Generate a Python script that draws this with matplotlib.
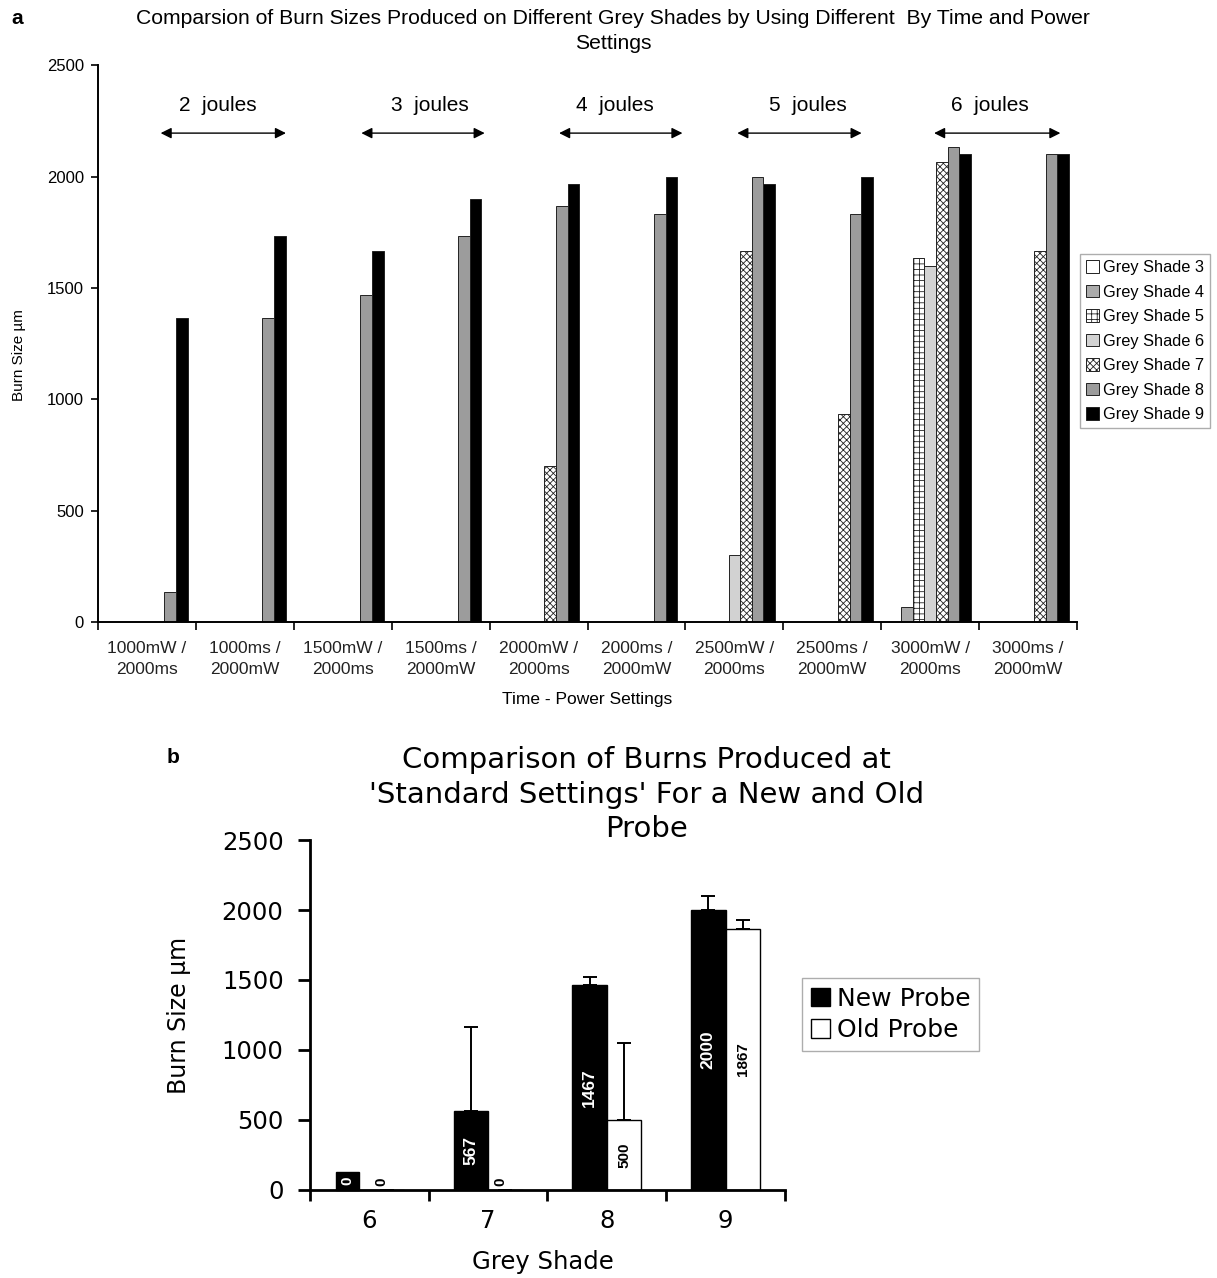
import matplotlib
matplotlib.use("Agg")
import matplotlib.pyplot as plt
from matplotlib.patches import Patch
import numpy as np

plt.rcParams['font.family'] = ['Liberation Sans', 'DejaVu Sans']
plt.rcParams['hatch.linewidth'] = 0.6

# ---------------- data (panel a) ----------------
categories = ["1000mW /\n2000ms", "1000ms /\n2000mW", "1500mW /\n2000ms", "1500ms /\n2000mW",
              "2000mW /\n2000ms", "2000ms /\n2000mW", "2500mW /\n2000ms", "2500ms /\n2000mW",
              "3000mW /\n2000ms", "3000ms /\n2000mW"]
shade3 = [0, 0, 0, 0, 0, 0, 0, 0, 0, 0]
shade4 = [0, 0, 0, 0, 0, 0, 0, 0, 67, 0]
shade5 = [0, 0, 0, 0, 0, 0, 0, 0, 1633, 0]
shade6 = [0, 0, 0, 0, 0, 0, 300, 0, 1600, 0]
shade7 = [0, 0, 0, 0, 700, 0, 1667, 933, 2067, 1667]
shade8 = [133, 1367, 1467, 1733, 1867, 1833, 2000, 1833, 2133, 2100]
shade9 = [1367, 1733, 1667, 1900, 1967, 2000, 1967, 2000, 2100, 2100]
series_names = ["Grey Shade 3", "Grey Shade 4", "Grey Shade 5", "Grey Shade 6",
                "Grey Shade 7", "Grey Shade 8", "Grey Shade 9"]
joule_labels = ["2  joules", "3  joules", "4  joules", "5  joules", "6  joules"]

# ---------------- data (panel b) ----------------
shades_b = ["6", "7", "8", "9"]
new_probe = [0, 567, 1467, 2000]
old_probe = [0, 0, 500, 1867]
new_err = [0, 600, 55, 100]
old_err = [0, 0, 550, 60]

fig = plt.figure(figsize=(12.17, 12.78), dpi=100)

# ================= panel a =================
ax = fig.add_axes([0.0805, 0.5133, 0.8045, 0.4357])
series = [shade3, shade4, shade5, shade6, shade7, shade8, shade9]
styles = [
    dict(color='white', hatch=None),
    dict(color='#ababab', hatch=None),
    dict(color='white', hatch='+++'),
    dict(color='#d2d2d2', hatch=None),
    dict(color='white', hatch='xxxxx'),
    dict(color='#9c9c9c', hatch=None),
    dict(color='black', hatch=None),
]
n = len(series)
bw = 0.119
x = np.arange(len(categories))
handles = []
for i, (vals, st) in enumerate(zip(series, styles)):
    offs = (i - (n - 1) / 2) * bw
    ax.bar(x + offs, vals, width=bw, color=st['color'], hatch=st['hatch'],
           edgecolor='#222222', linewidth=0.7)
    handles.append(Patch(facecolor=st['color'], hatch=st['hatch'], edgecolor='#222222',
                         linewidth=0.7, label=series_names[i]))

ax.set_xlim(-0.5, len(categories) - 0.5)
ax.set_ylim(0, 2500)
ax.set_yticks([0, 500, 1000, 1500, 2000, 2500])
ax.tick_params(axis='y', labelsize=12, length=5, width=1.2, pad=5)
ax.set_xticks(x)
ax.set_xticklabels(categories, fontsize=12.5, linespacing=1.5, color='#222222')
ax.tick_params(axis='x', length=0, pad=14)
ax.set_xticks(np.arange(-0.5, len(categories) + 0.5, 1), minor=True)
ax.tick_params(axis='x', which='minor', length=6, width=1.2)
for s in ['top', 'right']:
    ax.spines[s].set_visible(False)
ax.spines['left'].set_linewidth(1.4)
ax.spines['bottom'].set_linewidth(1.4)
ax.set_ylabel("Burn Size µm", fontsize=11)
ax.yaxis.set_label_coords(-0.074, 0.48)
ax.set_xlabel("Time - Power Settings", fontsize=12.5)
ax.xaxis.set_label_coords(0.5, -0.126)

arrow_start = [0.14, 2.19, 4.21, 6.03, 8.04]
arrow_end = [1.42, 3.45, 5.47, 7.30, 9.33]
text_x = [0.72, 2.89, 4.78, 6.75, 8.61]
for a0, a1, tx, lab in zip(arrow_start, arrow_end, text_x, joule_labels):
    ax.annotate("", xy=(a1, 2195), xytext=(a0, 2195),
                arrowprops=dict(arrowstyle='<|-|>', color='black', lw=1.0,
                                mutation_scale=16, shrinkA=0, shrinkB=0))
    ax.text(tx, 2318, lab, ha='center', va='center', fontsize=15)

leg = ax.legend(handles=handles, loc='upper left', bbox_to_anchor=(1.003, 0.66),
                fontsize=11.8, frameon=True, fancybox=False, handlelength=0.8,
                handleheight=0.8, handletextpad=0.25, labelspacing=0.58,
                borderpad=0.35, borderaxespad=0.0)
leg.get_frame().set_edgecolor('#999999')
leg.get_frame().set_linewidth(1.0)

fig.text(0.504, 0.993, "Comparsion of Burn Sizes Produced on Different Grey Shades by Using Different  By Time and Power\nSettings",
         ha='center', va='top', fontsize=15.2, linespacing=1.4)
fig.text(0.009, 0.993, "a", ha='left', va='top', fontsize=15, fontweight='bold')

# ================= panel b =================
dv = ['DejaVu Sans']
bx = fig.add_axes([0.2547, 0.0689, 0.3903, 0.2738])
xb = np.arange(len(shades_b))
w = 0.29
ekw = dict(ecolor='black', elinewidth=1.4, capsize=4.8, capthick=1.4)
bx.bar(xb - w / 2, new_probe, width=w, color='black', edgecolor='black', linewidth=1,
       yerr=[np.zeros(4), new_err], error_kw=ekw, label="New Probe")
bx.bar(xb + w / 2, old_probe, width=w, color='white', edgecolor='black', linewidth=1,
       yerr=[np.zeros(4), old_err], error_kw=ekw, label="Old Probe")

for i in range(len(xb)):
    v = new_probe[i]
    if v > 0:
        bx.text(xb[i] - w / 2, v / 2, str(v), rotation=90, ha='center', va='center',
                color='white', fontsize=12.5, fontweight='bold')
    else:
        bx.text(xb[i] - w / 2 - 0.04, 63, str(v), rotation=90, ha='center', va='center',
                color='white', fontsize=11, fontweight='bold',
                bbox=dict(facecolor='black', edgecolor='black', boxstyle='square,pad=0.3'))
    v = old_probe[i]
    if v > 0:
        bx.text(xb[i] + w / 2, v / 2, str(v), rotation=90, ha='center', va='center',
                color='black', fontsize=11, fontweight='bold')
    else:
        bx.text(xb[i] + w / 2 - 0.04, 60, str(v), rotation=90, ha='center', va='center',
                color='black', fontsize=11, fontweight='bold')

bx.set_xlim(-0.5, len(shades_b) - 0.5)
bx.set_ylim(0, 2500)
bx.set_yticks([0, 500, 1000, 1500, 2000, 2500])
bx.set_yticklabels([str(v) for v in [0, 500, 1000, 1500, 2000, 2500]], family=dv, fontsize=17.5)
bx.tick_params(axis='y', length=9, width=2, pad=10)
bx.set_xticks(xb)
bx.set_xticklabels(shades_b, fontsize=17.5, family=dv)
bx.tick_params(axis='x', length=0, pad=14)
bx.set_xticks(np.arange(-0.5, len(shades_b) + 0.5, 1), minor=True)
bx.tick_params(axis='x', which='minor', length=8, width=2)
for s in ['top', 'right']:
    bx.spines[s].set_visible(False)
bx.spines['left'].set_linewidth(2)
bx.spines['bottom'].set_linewidth(2)
bx.set_ylabel("Burn Size µm", fontsize=17, family=dv)
bx.yaxis.set_label_coords(-0.25, 0.5)
bx.set_xlabel("Grey Shade", fontsize=17.5, family=dv)
bx.xaxis.set_label_coords(0.49, -0.172)

leg2 = bx.legend(loc='upper left', bbox_to_anchor=(1.036, 0.606), frameon=True,
                 prop=dict(family='DejaVu Sans', size=18),
                 fancybox=False, handlelength=0.75, handleheight=0.75, handletextpad=0.3,
                 labelspacing=0.3, borderpad=0.35, borderaxespad=0.0)
leg2.get_frame().set_edgecolor('#999999')
leg2.get_frame().set_linewidth(1.0)

fig.text(0.531, 0.416, "Comparison of Burns Produced at\n'Standard Settings' For a New and Old\nProbe",
         ha='center', va='top', fontsize=21, linespacing=1.28, family=dv)
fig.text(0.137, 0.415, "b", ha='left', va='top', fontsize=15, fontweight='bold')

fig.savefig("out.png", dpi=100)
